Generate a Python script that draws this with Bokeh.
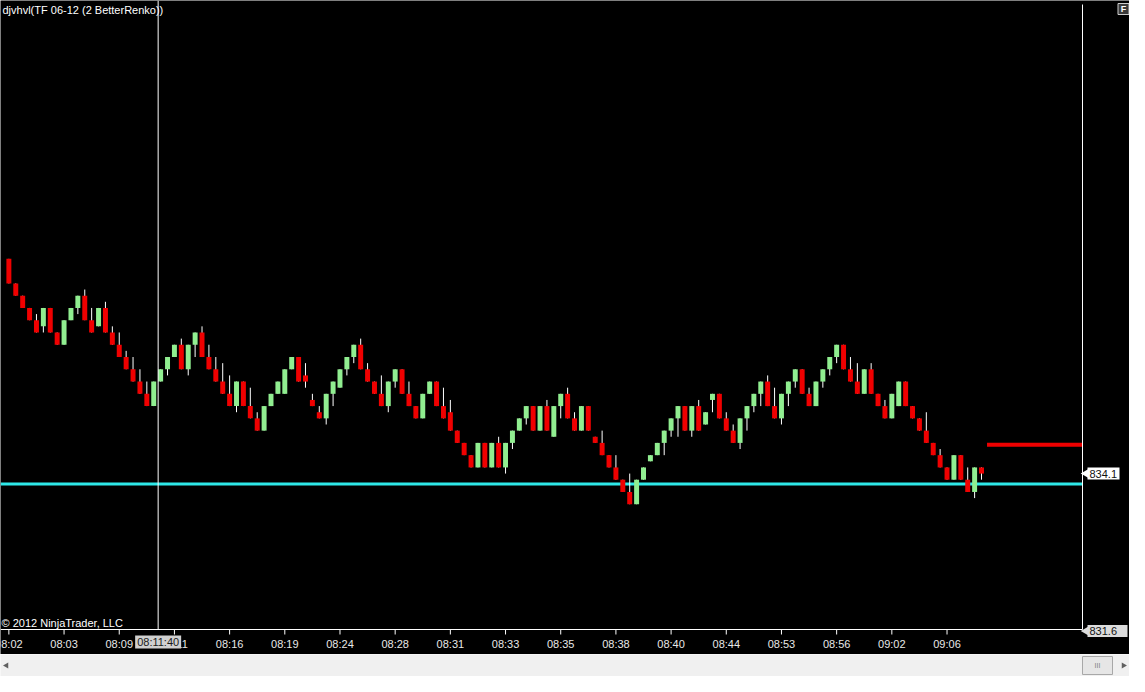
from bokeh.plotting import figure
from bokeh.models import ColumnDataSource, Label, Range1d
from bokeh.layouts import column
from bokeh.embed import file_html
from bokeh.resources import INLINE
from bokeh.core.properties import value
import math

# ---------------- data ----------------
opens = [837.6, 837.2, 837.0, 836.8, 836.6, 836.5, 836.8, 836.4, 836.2, 836.6,
         836.8, 837.0, 836.6, 836.5, 836.8, 836.4, 836.2, 836.0, 835.8, 835.6,
         835.4, 835.2, 835.6, 835.8, 836.0, 836.2, 835.8, 836.2, 836.4, 836.0,
         835.8, 835.6, 835.4, 835.2, 835.6, 835.2, 835.0, 834.8, 835.2, 835.4,
         835.4, 835.8, 836.0, 835.7, 835.3, 835.1, 835.0, 835.4, 835.5, 835.8,
         836.0, 836.2, 835.8, 835.6, 835.4, 835.2, 835.6, 835.8, 835.4, 835.2,
         835.0, 835.4, 835.6, 835.2, 835.1, 834.8, 834.6, 834.4, 834.2, 834.6,
         834.2, 834.6, 834.2, 834.6, 834.8, 835.0, 835.2, 834.8, 835.2, 834.7,
         835.2, 835.4, 835.0, 834.8, 835.2, 834.7, 834.6, 834.4, 834.2, 834.0,
         833.8, 833.6, 834.0, 834.3, 834.4, 834.6, 834.8, 835.0, 835.2, 834.8,
         835.2, 834.9, 835.3, 835.4, 835.0, 834.8, 834.6, 835.0, 835.2, 835.4,
         835.6, 835.2, 835.0, 835.4, 835.6, 835.8, 835.4, 835.2, 835.6, 835.8,
         836.0, 836.2, 835.8, 835.6, 835.4, 835.8, 835.4, 835.2, 835.0, 835.2,
         835.6, 835.2, 835.0, 834.8, 834.6, 834.4, 834.2, 834.0, 834.4, 834.0,
         833.8, 834.2]
closes = [837.2, 837.0, 836.8, 836.6, 836.4, 836.8, 836.4, 836.2, 836.6, 836.8,
          837.0, 836.6, 836.4, 836.8, 836.4, 836.2, 836.0, 835.8, 835.6, 835.4,
          835.2, 835.6, 835.8, 836.0, 836.2, 835.8, 836.2, 836.4, 836.0, 835.8,
          835.6, 835.4, 835.2, 835.6, 835.2, 835.0, 834.8, 835.2, 835.4, 835.6,
          835.8, 836.0, 835.6, 835.6, 835.2, 835.0, 835.4, 835.6, 835.8, 836.0,
          836.2, 835.8, 835.6, 835.4, 835.2, 835.6, 835.8, 835.4, 835.2, 835.0,
          835.4, 835.6, 835.2, 835.0, 834.8, 834.6, 834.4, 834.2, 834.6, 834.2,
          834.6, 834.2, 834.6, 834.8, 835.0, 835.2, 834.8, 835.2, 834.8, 835.2,
          835.4, 835.0, 834.8, 835.2, 834.8, 834.6, 834.4, 834.2, 834.0, 833.8,
          833.6, 834.0, 834.2, 834.4, 834.6, 834.8, 835.0, 835.2, 834.8, 835.2,
          834.8, 835.1, 835.4, 835.0, 834.8, 834.6, 835.0, 835.2, 835.4, 835.6,
          835.2, 835.0, 835.4, 835.6, 835.8, 835.4, 835.2, 835.6, 835.8, 836.0,
          836.2, 835.8, 835.6, 835.4, 835.8, 835.4, 835.2, 835.0, 835.4, 835.6,
          835.2, 835.0, 834.8, 834.6, 834.4, 834.2, 834.0, 834.4, 834.0, 833.8,
          834.2, 834.1]
highs = [837.6, 837.2, 837.0, 836.8, 836.7, 836.8, 836.8, 836.4, 836.6, 836.8,
         837.0, 837.1, 836.8, 836.8, 836.9, 836.5, 836.4, 836.1, 836.0, 835.8,
         835.6, 835.6, 835.8, 836.0, 836.2, 836.3, 836.2, 836.4, 836.5, 836.2,
         836.0, 835.9, 835.7, 835.6, 835.6, 835.5, 835.1, 835.2, 835.4, 835.6,
         835.8, 836.0, 836.0, 835.9, 835.4, 835.2, 835.4, 835.6, 835.8, 836.0,
         836.2, 836.3, 835.9, 835.6, 835.7, 835.6, 835.8, 835.8, 835.6, 835.2,
         835.4, 835.6, 835.6, 835.5, 835.3, 834.8, 834.6, 834.4, 834.6, 834.6,
         834.6, 834.7, 834.6, 834.8, 835.0, 835.2, 835.2, 835.2, 835.3, 835.2,
         835.4, 835.5, 835.1, 835.2, 835.2, 834.7, 834.8, 834.4, 834.4, 834.0,
         834.1, 834.0, 834.2, 834.4, 834.6, 834.8, 835.0, 835.2, 835.2, 835.2,
         835.3, 835.1, 835.4, 835.4, 835.1, 834.9, 835.0, 835.2, 835.4, 835.6,
         835.7, 835.5, 835.4, 835.6, 835.8, 835.8, 835.5, 835.6, 835.8, 836.0,
         836.2, 836.2, 836.0, 835.9, 835.8, 835.9, 835.4, 835.3, 835.4, 835.6,
         835.6, 835.2, 835.0, 835.1, 834.6, 834.5, 834.2, 834.4, 834.4, 834.2,
         834.2, 834.2]
lows = [837.2, 837.0, 836.8, 836.6, 836.4, 836.4, 836.4, 836.2, 836.2, 836.6,
        836.7, 836.6, 836.4, 836.5, 836.4, 836.2, 836.0, 835.8, 835.6, 835.4,
        835.2, 835.2, 835.6, 835.7, 836.0, 835.8, 835.7, 836.0, 836.0, 835.8,
        835.6, 835.4, 835.2, 835.1, 835.2, 835.0, 834.8, 834.8, 835.2, 835.4,
        835.4, 835.8, 835.6, 835.5, 835.2, 835.0, 834.9, 835.2, 835.5, 835.7,
        835.9, 835.8, 835.6, 835.4, 835.2, 835.1, 835.5, 835.4, 835.2, 835.0,
        835.0, 835.4, 835.2, 835.0, 834.8, 834.6, 834.4, 834.2, 834.2, 834.2,
        834.2, 834.2, 834.1, 834.5, 834.8, 834.9, 834.8, 834.8, 834.8, 834.7,
        835.0, 835.0, 834.8, 834.8, 834.8, 834.6, 834.4, 834.2, 834.0, 833.8,
        833.6, 833.6, 834.0, 834.3, 834.4, 834.4, 834.7, 834.7, 834.8, 834.7,
        834.8, 834.9, 835.1, 835.0, 834.8, 834.6, 834.5, 834.8, 835.1, 835.2,
        835.2, 835.0, 834.9, 835.2, 835.5, 835.4, 835.2, 835.2, 835.5, 835.7,
        835.9, 835.8, 835.6, 835.4, 835.4, 835.4, 835.2, 835.0, 835.0, 835.2,
        835.2, 835.0, 834.8, 834.6, 834.4, 834.2, 834.0, 834.0, 834.0, 833.8,
        833.7, 834.0]
tick_labels = ["08:02", "08:03", "08:09", "08:11", "08:16", "08:19", "08:24", "08:28",
               "08:31", "08:33", "08:35", "08:38", "08:40", "08:44", "08:53", "08:56",
               "09:02", "09:06"]
tick_step = 8
last_price = 834.1
bottom_price = 831.6
cyan_level = 833.93
red_level = 834.57
crosshair_bar = 21.64
crosshair_time = "08:11:40"
title_text = "djvhvl(TF 06-12 (2 BetterRenko))"
copyright_text = "\u00a9 2012 NinjaTrader, LLC"

# ---------------- geometry ----------------
TOTAL_W = 1129
FRAME_W, FRAME_H = 1082, 629     # price/time area
AXIS_H = 25                      # time-label row
STRIP_H = 22                     # scroll bar strip
X0, X1 = -1.214, 155.64
Y0, Y1 = 831.558, 841.812
pxx = FRAME_W / (X1 - X0)
pxy = FRAME_H / (Y1 - Y0)
XE = X0 + TOTAL_W / pxx          # right edge of whole canvas (data units)
YB = Y0 - AXIS_H / pxy           # bottom edge of whole canvas (data units)


def dx(px):
    return px / pxx


def dy(px):
    return px / pxy


UP = "#90ee90"
DN = "#f00000"
FONT = "Liberation Sans"
TXT = "#e8e8e8"

n = len(opens)
idx = list(range(n))
src = ColumnDataSource(dict(
    x=idx,
    top=[max(o, c) for o, c in zip(opens, closes)],
    bottom=[min(o, c) for o, c in zip(opens, closes)],
    high=highs, low=lows,
    color=[UP if c > o else DN for o, c in zip(opens, closes)],
))

p = figure(width=TOTAL_W, height=FRAME_H + AXIS_H, output_backend="svg",
           toolbar_location=None, x_range=Range1d(X0, XE), y_range=Range1d(YB, Y1),
           x_axis_location=None, y_axis_location=None,
           background_fill_color="black", border_fill_color="black",
           min_border=0, outline_line_color=None)
p.grid.visible = False

# horizontal levels
p.segment(x0=[X0], x1=[X1], y0=[cyan_level], y1=[cyan_level],
          line_color="#2ee8e8", line_width=3)
p.segment(x0=[n - 1 + 0.8], x1=[X1], y0=[red_level], y1=[red_level],
          line_color="#ee0000", line_width=4)

# candles
p.segment(x0="x", x1="x", y0="low", y1="high", source=src, line_color="white", line_width=1)
p.vbar(x="x", top="top", bottom="bottom", width=0.72, source=src,
       fill_color="color", line_color=None)

# crosshair line
p.segment(x0=[crosshair_bar], x1=[crosshair_bar], y0=[Y0], y1=[Y1],
          line_color="white", line_width=1)

# time axis (line, ticks, labels)
ticks = [i * tick_step for i in range(len(tick_labels))]
p.segment(x0=[X0], x1=[X1], y0=[Y0], y1=[Y0], line_color="white", line_width=1)
p.segment(x0=ticks, x1=ticks, y0=[Y0] * len(ticks), y1=[Y0 - dy(5)] * len(ticks),
          line_color="white", line_width=1)
p.text(x=ticks, y=[Y0 - dy(8)] * len(ticks), text=tick_labels, text_align="center",
       text_baseline="top", text_font=value(FONT), text_font_size="11px", text_color=TXT)

# crosshair time box
p.rect(x=[crosshair_bar], y=[Y0 - dy(12.5)], width=46, height=13,
       width_units="screen", height_units="screen", fill_color="#d0d0d0", line_color=None)
p.text(x=[crosshair_bar], y=[Y0 - dy(12.5)], text=[crosshair_time], text_align="center",
       text_baseline="middle", text_font=value(FONT), text_font_size="11px",
       text_color="#1a1a1a")

# price panel: right border line and price markers
p.segment(x0=[X1], x1=[X1], y0=[Y0], y1=[Y1 - dy(4)], line_color="white", line_width=1)
for price, ypos, bw, fill in [(last_price, last_price, 32, "white"),
                              (bottom_price, Y0 - dy(1.5), 40, "#dcdcdc")]:
    p.scatter(x=[X1 + dx(4)], y=[ypos], marker="triangle", size=10, angle=math.pi / 2,
              fill_color=fill, line_color=None)
    p.rect(x=[X1 + dx(5 + bw / 2)], y=[ypos], width=bw, height=12,
           width_units="screen", height_units="screen", fill_color=fill, line_color=None)
    p.text(x=[X1 + dx(7)], y=[ypos], text=[f"{price:.1f}"], text_align="left",
           text_baseline="middle", text_font=value(FONT), text_font_size="11px",
           text_color="#111111")

# "F" button at top right
p.rect(x=[XE - dx(6)], y=[Y1 - dy(8.5)], width=11, height=11, width_units="screen",
       height_units="screen", fill_color="#3a3a3a", line_color="#cccccc")
p.text(x=[XE - dx(6)], y=[Y1 - dy(8.5)], text=["F"], text_align="center",
       text_baseline="middle", text_font=value(FONT), text_font_size="9px",
       text_font_style="bold", text_color="white")

# title and copyright
p.add_layout(Label(x=X0 + dx(2), y=Y1 - dy(3), text=title_text, text_color="white",
                   text_font=FONT, text_font_size="11px", text_baseline="top"))
p.add_layout(Label(x=X0 + dx(1), y=Y0 + dy(1), text=copyright_text, text_color="white",
                   text_font=FONT, text_font_size="11px", text_baseline="bottom"))

# ---------------- bottom scroll strip ----------------
s = figure(width=TOTAL_W, height=STRIP_H, output_backend="svg", toolbar_location=None,
           x_range=Range1d(0, TOTAL_W), y_range=Range1d(0, STRIP_H),
           x_axis_location=None, y_axis_location=None,
           background_fill_color="#f0f0f0", border_fill_color="#f0f0f0",
           min_border=0, outline_line_color=None)
s.grid.visible = False
s.scatter(x=[6], y=[11], marker="triangle", size=6, angle=math.pi / 2,
          fill_color="#606060", line_color=None)
s.scatter(x=[TOTAL_W - 6], y=[11], marker="triangle", size=6, angle=-math.pi / 2,
          fill_color="#606060", line_color=None)
s.quad(left=[1082], right=[1112], bottom=[2], top=[20], fill_color="#e6e6e6",
       line_color="#a8a8a8")
s.text(x=[1097], y=[11], text=["III"], text_align="center", text_baseline="middle",
       text_font_size="7px", text_color="#808080", text_font=value(FONT))

layout = column(p, s, spacing=0)
open("out.html", "w").write(file_html(layout, INLINE))
